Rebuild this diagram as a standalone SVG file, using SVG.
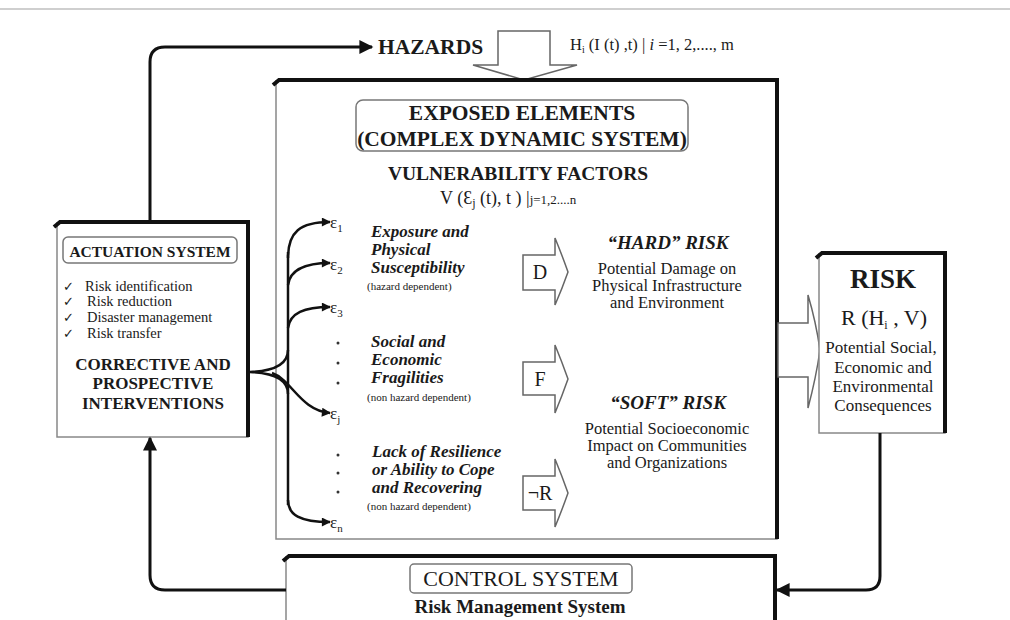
<svg xmlns="http://www.w3.org/2000/svg" width="1010" height="620" viewBox="0 0 1010 620" font-family="'Liberation Serif', 'Times New Roman', serif">
<defs>
<marker id="ahb" viewBox="0 0 10 10" refX="9" refY="5" markerWidth="16" markerHeight="14" orient="auto" markerUnits="userSpaceOnUse">
<path d="M0,0 L10,5 L0,10 z" fill="#111"/>
</marker>
<marker id="ahs" viewBox="0 0 10 10" refX="9" refY="5" markerWidth="10" markerHeight="9" orient="auto" markerUnits="userSpaceOnUse">
<path d="M0,0 L10,5 L0,10 z" fill="#111"/>
</marker>
</defs>
<style>
text{font-family:"Liberation Serif","Times New Roman",serif;fill:#1a1a1a}
.b{font-weight:bold}
.bi{font-weight:bold;font-style:italic}
.box{fill:#fff;stroke:#888;stroke-width:1.5}
.shadow{fill:none;stroke:#111;stroke-width:4;stroke-linejoin:miter}
.rr{fill:#fff;stroke:#777;stroke-width:1.5}
.conn{fill:none;stroke:#111;stroke-width:3}
.br{fill:none;stroke:#111;stroke-width:2.5}
.hollow{fill:#fff;stroke:#666;stroke-width:1.5}
.c{text-anchor:middle}
</style>
<line x1="0" y1="9" x2="1010" y2="9" stroke="#cfcfcf" stroke-width="2"/>

<g id="hazards">
<text x="378" y="54" class="b" font-size="21.5">HAZARDS</text>
<path class="hollow" d="M498,31 H550 V65 H577 L524,80 L473,65 H498 Z"/>
<text x="570" y="50" font-size="16.5">H<tspan font-size="10" dy="3">i</tspan><tspan dy="-3"> (I (t) ,t) | </tspan><tspan font-style="italic">i</tspan> =1, 2,...., m</text>
</g>

<g id="main">
<rect class="box" x="276" y="81" width="501" height="458"/>
<path class="shadow" d="M273,85 L279,80 H777 V539"/>
<rect class="rr" x="356" y="100" width="332" height="51" rx="7"/>
<text x="522" y="120" class="b c" font-size="21.5">EXPOSED ELEMENTS</text>
<text x="522" y="146" class="b c" font-size="21.5">(COMPLEX DYNAMIC SYSTEM)</text>
<text x="518" y="180" class="b c" font-size="19.5">VULNERABILITY FACTORS</text>
<text x="440" y="204" font-size="18">V (Ɛ<tspan font-size="12" dy="3">j</tspan><tspan dy="-3"> (t), t )  |</tspan><tspan font-size="13">j=1,2....n</tspan></text>

<text x="330" y="228" font-size="17">ε<tspan font-size="11" dy="4">1</tspan></text>
<text x="330" y="270" font-size="17">ε<tspan font-size="11" dy="4">2</tspan></text>
<text x="330" y="313" font-size="17">ε<tspan font-size="11" dy="4">3</tspan></text>
<text x="330" y="419" font-size="17">ε<tspan font-size="11" dy="4">j</tspan></text>
<text x="330" y="528" font-size="17">ε<tspan font-size="11" dy="4">n</tspan></text>
<g fill="#333">
<circle cx="338" cy="343" r="1.5"/><circle cx="338" cy="363" r="1.5"/><circle cx="338" cy="383" r="1.5"/>
<circle cx="338" cy="455" r="1.5"/><circle cx="338" cy="473" r="1.5"/><circle cx="338" cy="492" r="1.5"/>
</g>

<text x="371" y="237" class="bi" font-size="17">Exposure and</text>
<text x="371" y="255" class="bi" font-size="17">Physical</text>
<text x="371" y="273" class="bi" font-size="17">Susceptibility</text>
<text x="367" y="290" font-size="11">(hazard dependent)</text>

<text x="371" y="347" class="bi" font-size="17">Social and</text>
<text x="371" y="365" class="bi" font-size="17">Economic</text>
<text x="371" y="383" class="bi" font-size="17">Fragilities</text>
<text x="367" y="401" font-size="11">(non hazard dependent)</text>

<text x="372" y="457" class="bi" font-size="17">Lack of Resilience</text>
<text x="372" y="475" class="bi" font-size="17">or Ability to Cope</text>
<text x="372" y="493" class="bi" font-size="17">and Recovering</text>
<text x="367" y="510" font-size="11">(non hazard dependent)</text>

<path class="hollow" d="M523,255 H555 V238 Q562,255 568,272 Q562,289 555,305 V290 H523 Z"/>
<text x="540" y="279" class="c" font-size="20">D</text>
<path class="hollow" d="M523,362 H555 V345 Q562,362 568,379 Q562,396 555,413 V395 H523 Z"/>
<text x="540" y="386" class="c" font-size="20">F</text>
<path class="hollow" d="M523,476 H555 V459 Q562,476 568,493 Q562,510 555,527 V510 H523 Z"/>
<text x="540" y="500" class="c" font-size="20">¬R</text>

<text x="668" y="249" class="bi c" font-size="19">“HARD” RISK</text>
<text x="667" y="274" class="c" font-size="16.5">Potential Damage on</text>
<text x="667" y="291" class="c" font-size="16.5">Physical Infrastructure</text>
<text x="667" y="308" class="c" font-size="16.5">and Environment</text>
<text x="668" y="409" class="bi c" font-size="19">“SOFT” RISK</text>
<text x="667" y="434" class="c" font-size="16.5">Potential Socioeconomic</text>
<text x="667" y="451" class="c" font-size="16.5">Impact on Communities</text>
<text x="667" y="468" class="c" font-size="16.5">and Organizations</text>
</g>

<g id="actuation">
<rect class="box" x="57" y="223" width="191" height="214"/>
<path class="shadow" d="M54,227 L60,222 H248 V437"/>
<rect class="rr" x="63" y="237" width="174" height="26" rx="5"/>
<text x="150" y="257" class="b c" font-size="15.5">ACTUATION SYSTEM</text>
<text x="63" y="291" font-size="13">✓</text><text x="85" y="291" font-size="14.5">Risk identification</text>
<text x="63" y="306" font-size="13">✓</text><text x="87" y="306" font-size="14.5">Risk reduction</text>
<text x="63" y="322" font-size="13">✓</text><text x="87" y="322" font-size="14.5">Disaster management</text>
<text x="63" y="338" font-size="13">✓</text><text x="87" y="338" font-size="14.5">Risk transfer</text>
<text x="153" y="370" class="b c" font-size="17">CORRECTIVE AND</text>
<text x="153" y="389" class="b c" font-size="17">PROSPECTIVE</text>
<text x="153" y="409" class="b c" font-size="17">INTERVENTIONS</text>
</g>

<g id="risk">
<path class="hollow" d="M778,323 H808 V295 Q816,322 820,350 Q816,378 808,408 V377 H778 Z"/>
<rect class="box" x="819" y="254" width="126" height="179"/>
<path class="shadow" d="M816,258 L822,253 H945 V433"/>
<text x="883" y="288" class="b c" font-size="27">RISK</text>
<text x="884" y="325" class="c" font-size="22">R (H<tspan font-size="12" dy="4">i</tspan><tspan dy="-4"> , V)</tspan></text>
<text x="881" y="353" class="c" font-size="17">Potential Social,</text>
<text x="883" y="373" class="c" font-size="17">Economic and</text>
<text x="883" y="392" class="c" font-size="17">Environmental</text>
<text x="883" y="411" class="c" font-size="17">Consequences</text>
</g>

<g id="control">
<rect class="box" x="286" y="557" width="489" height="70"/>
<path class="shadow" d="M283,561 L289,556 H775 V625"/>
<rect class="rr" x="410" y="564" width="222" height="29" rx="4"/>
<text x="521" y="586" class="c" font-size="22">CONTROL SYSTEM</text>
<text x="520" y="613" class="b c" font-size="19">Risk Management System</text>
</g>

<g id="connectors">
<path class="conn" d="M150,222 V62 Q150,47 165,47 H372" marker-end="url(#ahb)"/>
<path class="conn" d="M286,590 H165 Q150,590 150,575 V438" marker-end="url(#ahb)"/>
<path class="conn" d="M880,433 V576 Q880,590 866,590 H777" marker-end="url(#ahb)"/>
<path class="br" d="M288,252 V505"/>
<path class="br" d="M288,258 C288,232 300,222 330,222" marker-end="url(#ahs)"/>
<path class="br" d="M288,285 C290,270 304,263 330,263" marker-end="url(#ahs)"/>
<path class="br" d="M288,328 C290,313 304,307 330,307" marker-end="url(#ahs)"/>
<path class="br" d="M288,350 C288,364 275,371 250,372 C275,373 288,380 288,394"/>
<path class="br" d="M272,373 C292,380 300,410 330,413" marker-end="url(#ahs)"/>
<path class="br" d="M288,500 C288,515 300,522 330,522" marker-end="url(#ahs)"/>
</g>
</svg>
